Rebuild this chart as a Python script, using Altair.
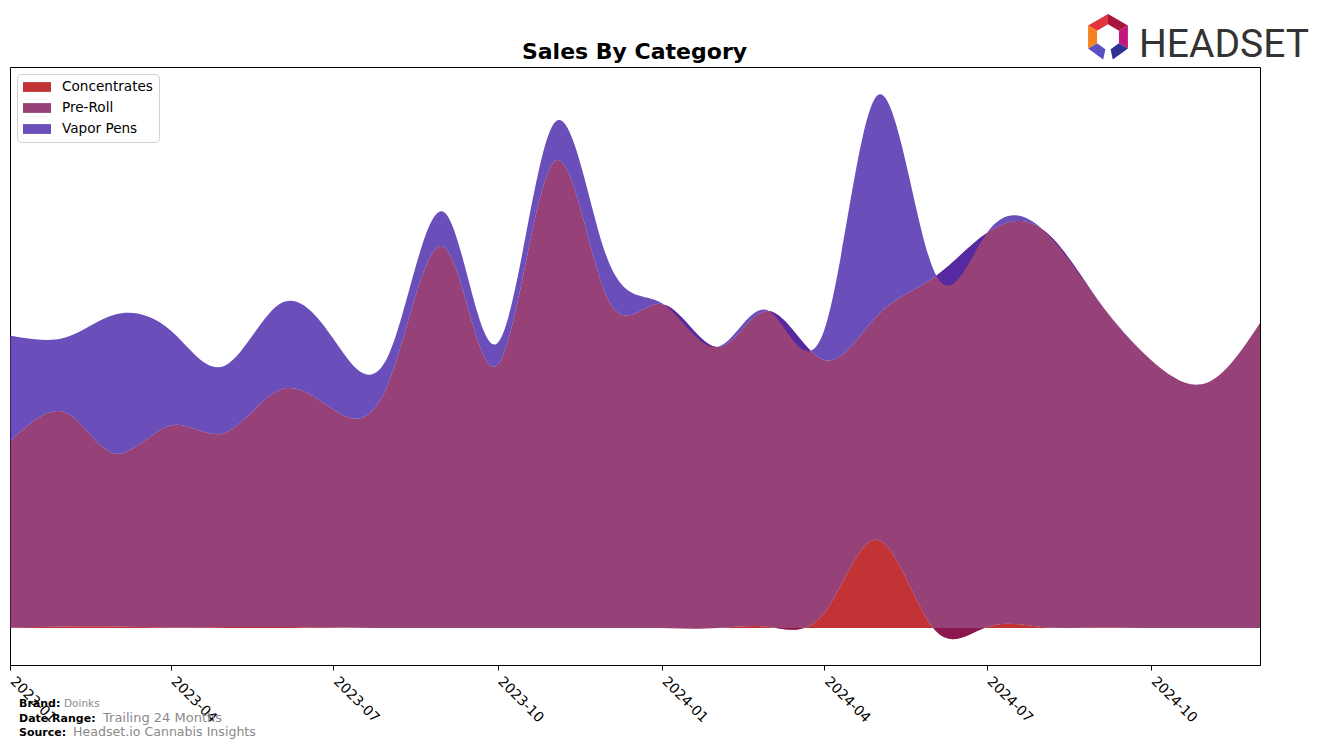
import math
import altair as alt
import pandas as pd

# ---------------- data ----------------
months = [
    "2023-01-01", "2023-02-01", "2023-03-01", "2023-04-01", "2023-05-01", "2023-06-01",
    "2023-07-01", "2023-08-01", "2023-09-01", "2023-10-01", "2023-11-01", "2023-12-01",
    "2024-01-01", "2024-02-01", "2024-03-01", "2024-04-01", "2024-05-01", "2024-06-01",
    "2024-07-01", "2024-08-01", "2024-09-01", "2024-10-01", "2024-11-01", "2024-12-01",
]
categories = ["Concentrates", "Pre-Roll", "Vapor Pens"]
concentrates = [0.5, 1.5, 1.5, 0.5, 1, 1, 0.5, 0, 0, 0, 0, 0,
                0, 0, 1, 15, 88, 0, 1, 1, 0.5, 0, 0, 0]
pre_roll = [186, 214, 173, 202, 194, 237, 218, 245, 381, 263, 465, 332,
            324, 281, 316, 253, 225, 350, 394, 398, 328, 268, 245, 305]
vapor_pens = [106, 75, 139, 95, 67, 86, 71, 28, 35, 22, 38, 40,
              1, 0, 0, 30, 220, 9, 0, 0, 0, 0, 0, 0]
tick_months = [(2023, 1), (2023, 4), (2023, 7), (2023, 10),
               (2024, 1), (2024, 4), (2024, 7), (2024, 10)]

chart_title = "Sales By Category"
footer_bold = ["Brand:", "Date Range:", "Source:"]
footer_vals = ["Doinks", "Trailing 24 Months", "Headset.io Cannabis Insights"]

colors = ["#B30004", "#7C1255", "#4523AA"]

rows = []
for order, (cat, vals) in enumerate(zip(categories, [concentrates, pre_roll, vapor_pens])):
    for m, v in zip(months, vals):
        rows.append({"month": m, "category": cat, "sales": v, "order": order})
df = pd.DataFrame(rows)

FONT = "DejaVu Sans"

x_scale = alt.Scale(
    type="utc",
    domain=[alt.DateTime(year=2023, month=1, date=1, utc=True),
            alt.DateTime(year=2024, month=12, date=1, utc=True)],
    nice=False,
)

area = alt.Chart(df).mark_area(interpolate="natural", opacity=0.8).encode(
    x=alt.X(
        "month:T",
        scale=x_scale,
        title=None,
        axis=alt.Axis(
            values=[alt.DateTime(year=y, month=m, date=1, utc=True) for y, m in tick_months],
            format="%Y-%m",
            labelAngle=45,
            labelAlign="left",
            labelBaseline="top",
            labelFont=FONT,
            labelFontSize=13.9,
            labelColor="black",
            labelPadding=4,
            labelOffset=7,
            tickSize=5,
            tickColor="black",
            domainColor="black",
            grid=False,
            labelOverlap=False,
            labelFlush=False,
        ),
    ),
    y=alt.Y("sales:Q", stack="zero",
            scale=alt.Scale(domain=[-37, 561], nice=False, zero=False), axis=None),
    color=alt.Color(
        "category:N",
        scale=alt.Scale(domain=categories, range=colors),
        legend=alt.Legend(
            title=None,
            orient="none",
            legendX=7,
            legendY=7,
            symbolType="M-2,-0.7H2V0.7H-2Z",
            symbolSize=196,
            symbolOffset=7,
            symbolStrokeWidth=0,
            labelOffset=18,
            labelFont=FONT,
            labelFontSize=13.6,
            labelColor="black",
            rowPadding=7,
            padding=6,
            fillColor="white",
            strokeColor="#d0d0d0",
            cornerRadius=4,
        ),
    ),
    order=alt.Order("order:Q", sort="ascending"),
)


def text_layer(label, x, y, size, bold=False, color="black", font=FONT, align="left"):
    return alt.Chart(pd.DataFrame({"t": [label]})).mark_text(
        align=align, baseline="alphabetic", font=font, fontSize=size,
        fontWeight="bold" if bold else "normal", color=color,
    ).encode(text="t:N", x=alt.value(x), y=alt.value(y))


layers = [area]
# title
layers.append(text_layer(chart_title, 624.5, -8, 22, bold=True, align="center"))
# footer
layers.append(text_layer(footer_bold[0], 9, 640, 11, bold=True))
layers.append(text_layer(footer_vals[0], 54, 640, 10.5, color="#8a8a8a"))
layers.append(text_layer(footer_bold[1], 9, 655, 11, bold=True))
layers.append(text_layer(footer_vals[1], 93, 655, 13, color="#8a8a8a"))
layers.append(text_layer(footer_bold[2], 9, 669, 11, bold=True))
layers.append(text_layer(footer_vals[2], 63, 669, 12.6, color="#8a8a8a"))

# logo wordmark
layers.append(text_layer("HEADSET", 1129, -10, 39, color="#333333", font="Roboto"))


# logo icon: hexagon ring segments
def seg_path(a1, a2, r_out=1.0, r_in=0.55):
    def pt(r, a):
        return (r * math.cos(math.radians(a)), -r * math.sin(math.radians(a)))
    p = [pt(r_out, a1), pt(r_out, a2), pt(r_in, a2), pt(r_in, a1)]
    return "M" + "L".join(f"{x:.3f},{y:.3f}" for x, y in p) + "Z"


logo_segments = [
    (150, 90, "#E2343C"),
    (90, 30, "#A8163E"),
    (30, -30, "#C2187E"),
    (-30, -78, "#2E3192"),
    (-150, -102, "#5B50C0"),
    (210, 150, "#F58220"),
]
logo_df = pd.DataFrame({"k": [0]})
for a1, a2, col in logo_segments:
    layers.append(
        alt.Chart(logo_df).mark_point(
            shape=seg_path(a1, a2), size=2116, filled=True, color=col,
            opacity=1, strokeWidth=0,
        ).encode(x=alt.value(1098), y=alt.value(-30))
    )

chart = alt.layer(*layers).properties(
    width=1250,
    height=598,
    padding={"left": 10, "top": 67, "right": 64, "bottom": 83},
    autosize=alt.AutoSizeParams(type="none"),
    background="white",
).configure_view(stroke="black", strokeWidth=1)

chart.save("out.html", embed_options={"renderer": "svg", "actions": False})
